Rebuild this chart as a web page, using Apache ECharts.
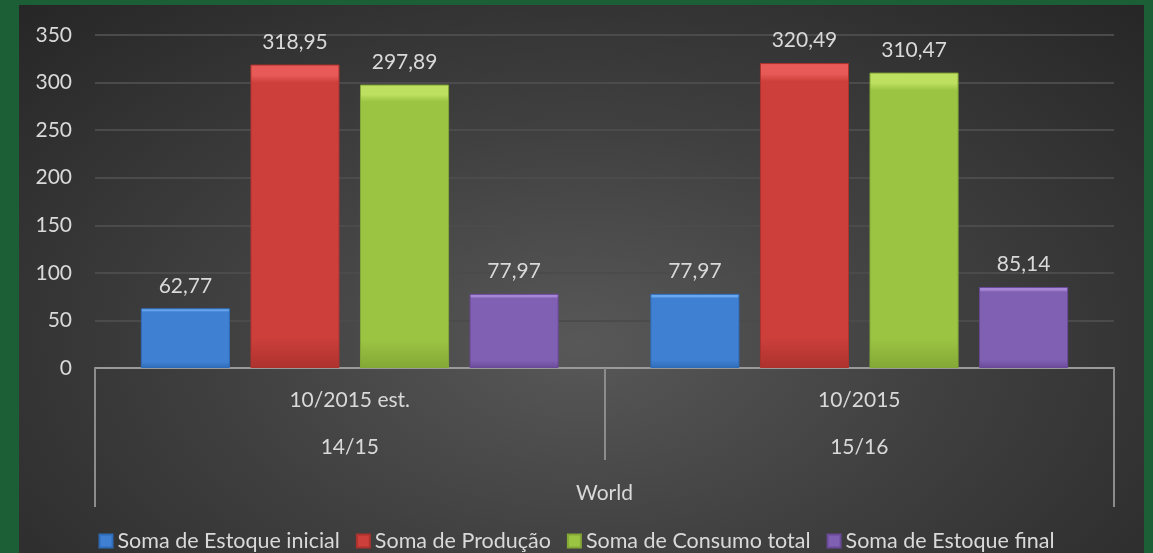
<!DOCTYPE html>
<html>
<head>
<meta charset="utf-8">
<script src="https://cdn.jsdelivr.net/npm/echarts@6/dist/echarts.min.js"></script>
<style>
  html, body { margin: 0; padding: 0; }
  body { width: 1153px; height: 553px; background: #1c5f37; position: relative; overflow: hidden; }
  #panel {
    position: absolute; left: 19px; top: 5px; width: 1125px; height: 548px;
    background: radial-gradient(ellipse at 50% 62%, #585858 0%, #404040 45%, #262626 100%);
  }
  #main { position: absolute; left: 0; top: 0; width: 1153px; height: 553px; }
</style>
</head>
<body>
<div id="panel"></div>
<div id="main"></div>
<script>
// categorias (3 niveis)
var periodos = ['10/2015 est.', '10/2015'];
var safras = ['14/15', '15/16'];
var regiao = ['World'];

var seriesNames = ['Soma de Estoque inicial', 'Soma de Produção', 'Soma de Consumo total', 'Soma de Estoque final'];
var estoqueInicial = [62.77, 77.97];
var producao = [318.95, 320.49];
var consumoTotal = [297.89, 310.47];
var estoqueFinal = [77.97, 85.14];

var yTicks = [0, 50, 100, 150, 200, 250, 300, 350];

// cores das barras: [topo claro, corpo, base]
var cores = [
  ['#6aa8f0', '#3f80d2', '#2f6cb8'],
  ['#e85a57', '#cc3f3b', '#ad322e'],
  ['#bde060', '#9cc443', '#83a836'],
  ['#a886d6', '#8060b2', '#6a4a98']
];

function grad(c) {
  return new echarts.graphic.LinearGradient(0, 0, 0, 1, [
    { offset: 0, color: c[0] },
    { offset: 0.035, color: c[0] },
    { offset: 0.06, color: c[1] },
    { offset: 0.9, color: c[1] },
    { offset: 1, color: c[2] }
  ]);
}

var txt = '#d9d9d9';
var fonte = 'Lato, "Open Sans", sans-serif';

var myChart = echarts.init(document.getElementById('main'));

var dados = [estoqueInicial, producao, consumoTotal, estoqueFinal];
var series = dados.map(function (d, i) {
  return {
    name: seriesNames[i],
    type: 'bar',
    xAxisIndex: 0,
    data: d,
    barGap: '23%',
    barCategoryGap: '18%',
    itemStyle: { color: grad(cores[i]), borderColor: cores[i][2], borderWidth: 1 },
    label: {
      show: true,
      position: 'top',
      distance: 12,
      color: txt,
      fontSize: 21,
      fontFamily: fonte,
      formatter: function (p) { return p.value.toFixed(2).replace('.', ','); }
    }
  };
});

myChart.setOption({
  animation: false,
  textStyle: { fontFamily: fonte },
  grid: { left: 95, right: 39, top: 35, bottom: 185, containLabel: false },
  legend: {
    bottom: -4,
    left: 'center',
    icon: 'rect',
    itemWidth: 13,
    itemHeight: 13,
    itemGap: 16,
    textStyle: { color: txt, fontSize: 21.5, fontFamily: fonte },
    data: seriesNames
  },
  xAxis: [
    {
      type: 'category',
      position: 'bottom',
      data: periodos,
      axisLine: { show: true, lineStyle: { color: '#9a9a9a', width: 2 } },
      axisTick: { show: true, length: 92, lineStyle: { color: '#8c8c8c', width: 2 } },
      axisLabel: { color: txt, fontSize: 21, margin: 22, fontFamily: fonte }
    },
    {
      type: 'category',
      position: 'bottom',
      data: safras,
      axisLine: { show: false },
      axisTick: { show: false },
      axisLabel: { color: txt, fontSize: 21, margin: 69, fontFamily: fonte }
    },
    {
      type: 'category',
      position: 'bottom',
      data: regiao,
      axisLine: { show: false },
      axisTick: { show: true, length: 139, lineStyle: { color: '#8c8c8c', width: 2 } },
      axisLabel: { color: txt, fontSize: 21, margin: 115, fontFamily: fonte }
    }
  ],
  yAxis: {
    type: 'value',
    min: yTicks[0],
    max: yTicks[yTicks.length - 1],
    interval: 50,
    axisLine: { show: false },
    axisTick: { show: false },
    axisLabel: { color: txt, fontSize: 21, margin: 23, fontFamily: fonte },
    splitLine: { lineStyle: { color: '#4b4b4b', width: 2 } }
  },
  series: series
});
</script>
</body>
</html>
